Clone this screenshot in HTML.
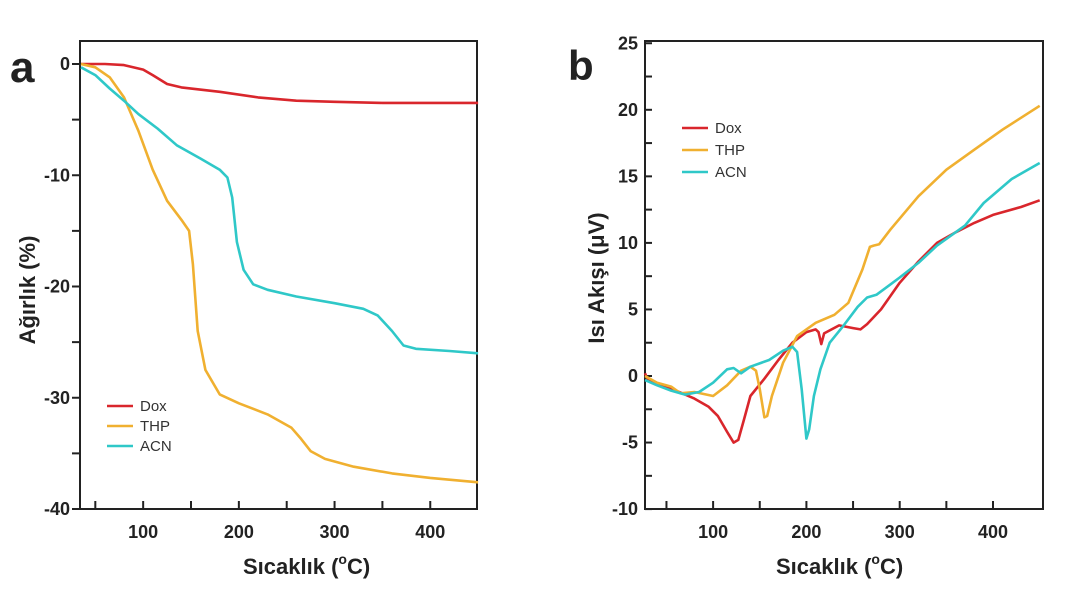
<!DOCTYPE html>
<html><head><meta charset="utf-8"><style>
body{margin:0;background:#fff;width:1068px;height:601px;overflow:hidden}
svg{font-family:"Liberation Sans",Arial,sans-serif}
.t{font-weight:bold;font-size:18px;fill:#222}
.ax{font-weight:bold;font-size:22px;fill:#222}
</style></head><body>
<svg id="s" width="1068" height="601" xmlns="http://www.w3.org/2000/svg">
<text x="10" y="82" font-size="44" font-weight="bold" fill="#222">a</text>
<text x="568" y="80" font-size="42" font-weight="bold" fill="#222">b</text>
<text x="243" y="574" class="ax">Sıcaklık (<tspan font-size="14" dy="-10">o</tspan><tspan dy="10">C)</tspan></text>
<text x="776" y="574" class="ax">Sıcaklık (<tspan font-size="14" dy="-10">o</tspan><tspan dy="10">C)</tspan></text>
<text transform="translate(35,290) rotate(-90)" text-anchor="middle" class="ax" font-size="20">Ağırlık (%)</text>
<text transform="translate(604,278) rotate(-90)" text-anchor="middle" class="ax" font-size="23">Isı Akışı (μV)</text>
<g id="g"></g>
</svg>
<script>
var g=document.getElementById('g'),h='';
function P(o,d){return d.map(function(p,i){return (i?'L':'M')+(o.x0+(p[0]-o.t0)*o.sx).toFixed(1)+','+(o.y0-(p[1]-o.v0)*o.sy).toFixed(1)}).join('')}
var A={x0:80,t0:34,sx:0.957,y0:64,v0:0,sy:11.125,L:80,R:477,T:41,B:509,out:1};
var B={x0:645,t0:27,sx:0.933,y0:376,v0:0,sy:13.31,L:645,R:1043,T:41,B:509,out:0};
var C={r:'#d9262c',o:'#f0b030',c:'#2fc8c8'};
function frame(o,yt,ylab,xt){
 h+='<rect x="'+o.L+'" y="'+o.T+'" width="'+(o.R-o.L)+'" height="'+(o.B-o.T)+'" fill="none" stroke="#222" stroke-width="2"/>';
 var tx=o.out?o.L-8:o.L+7;
 yt.forEach(function(v){var y=o.y0-v*o.sy;h+='<line x1="'+o.L+'" x2="'+tx+'" y1="'+y+'" y2="'+y+'" stroke="#222" stroke-width="2"/>';});
 ylab.forEach(function(v){var y=o.y0-v*o.sy;h+='<text class="t" x="'+(o.L-(o.out?10:7))+'" y="'+(y+6)+'" text-anchor="end">'+v+'</text>';});
 xt.forEach(function(t){var x=o.x0+(t-o.t0)*o.sx;h+='<line x1="'+x+'" x2="'+x+'" y1="'+o.B+'" y2="'+(o.B-8)+'" stroke="#222" stroke-width="2"/>';if(t%100==0)h+='<text class="t" x="'+x+'" y="'+(o.B+29)+'" text-anchor="middle">'+t+'</text>';});
}
frame(A,[0,-5,-10,-15,-20,-25,-30,-35,-40],[0,-10,-20,-30,-40],[50,100,150,200,250,300,350,400]);
frame(B,[25,20,15,10,5,0,-5,-10,22.5,17.5,12.5,7.5,2.5,-2.5,-7.5],[25,20,15,10,5,0,-5,-10],[50,100,150,200,250,300,350,400]);
function line(o,c,d){h+='<path d="'+P(o,d)+'" fill="none" stroke="'+c+'" stroke-width="2.6" stroke-linejoin="round"/>';}
line(A,C.r,[[35,0],[60,0],[80,-0.1],[100,-0.5],[110,-1],[125,-1.8],[140,-2.1],[180,-2.5],[220,-3],[260,-3.3],[300,-3.4],[350,-3.5],[450,-3.5]]);
line(A,C.o,[[35,0],[50,-0.3],[65,-1.2],[80,-3],[95,-6],[110,-9.5],[125,-12.3],[140,-14],[148,-15],[152,-18],[157,-24],[165,-27.5],[180,-29.7],[200,-30.5],[230,-31.5],[255,-32.7],[265,-33.7],[275,-34.8],[290,-35.5],[320,-36.2],[360,-36.8],[400,-37.2],[450,-37.6]]);
line(A,C.c,[[35,-0.3],[50,-1],[65,-2.2],[80,-3.3],[95,-4.5],[115,-5.8],[135,-7.3],[160,-8.5],[180,-9.5],[188,-10.2],[193,-12],[198,-16],[205,-18.5],[215,-19.8],[230,-20.3],[260,-20.9],[300,-21.5],[330,-22],[345,-22.6],[360,-24],[372,-25.3],[385,-25.6],[420,-25.8],[450,-26]]);
line(B,C.r,[[27,0.2],[30,-0.3],[40,-0.6],[60,-1.1],[80,-1.7],[95,-2.3],[105,-3],[115,-4.2],[122,-5],[127,-4.8],[133,-3.3],[140,-1.5],[155,-0.2],[170,1.2],[185,2.5],[200,3.3],[210,3.5],[213,3.3],[216,2.4],[219,3.2],[235,3.8],[250,3.6],[258,3.5],[265,3.9],[280,5],[300,7],[320,8.6],[340,10],[360,10.8],[380,11.5],[400,12.1],[430,12.7],[450,13.2]]);
line(B,C.o,[[27,0],[40,-0.5],[55,-0.8],[65,-1.3],[80,-1.2],[100,-1.5],[115,-0.7],[130,0.4],[140,0.7],[146,0.4],[150,-1],[155,-3.1],[158,-3],[163,-1.5],[175,1],[190,3],[210,4],[230,4.6],[245,5.5],[260,8],[268,9.7],[272,9.8],[278,9.9],[290,11],[320,13.5],[350,15.5],[380,17],[410,18.5],[450,20.3]]);
line(B,C.c,[[27,-0.3],[40,-0.7],[55,-1.1],[70,-1.4],[85,-1.2],[100,-0.5],[115,0.5],[122,0.6],[130,0.2],[140,0.7],[160,1.2],[175,1.9],[185,2.2],[190,1.8],[195,-1],[200,-4.7],[203,-4],[208,-1.5],[215,0.5],[225,2.5],[240,3.8],[255,5.2],[265,5.9],[275,6.1],[300,7.4],[320,8.5],[340,9.8],[370,11.3],[390,13],[420,14.8],[450,16]]);
function leg(x,y,dy){[['Dox',C.r],['THP',C.o],['ACN',C.c]].forEach(function(e,i){var yy=y+i*dy;h+='<line x1="'+x+'" x2="'+(x+26)+'" y1="'+yy+'" y2="'+yy+'" stroke="'+e[1]+'" stroke-width="2.6"/><text x="'+(x+33)+'" y="'+(yy+5)+'" font-size="15" fill="#333">'+e[0]+'</text>';});}
leg(107,406,20);leg(682,128,22);
g.innerHTML=h;
</script>
</body></html>
